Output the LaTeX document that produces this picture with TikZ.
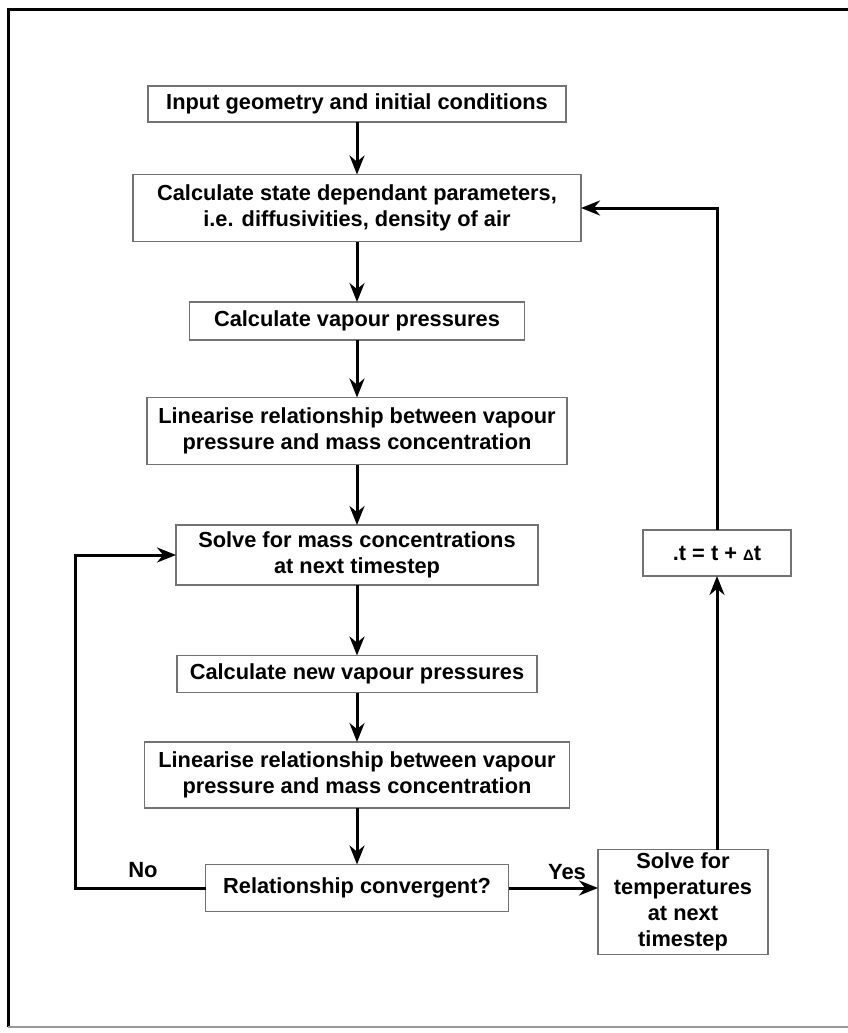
\documentclass[tikz,border=0pt]{standalone}
\usepackage{fontspec}
\setmainfont{Liberation Sans}
\usetikzlibrary{arrows.meta}
\tikzset{
box/.style = {draw=black!55, line width=1.1pt, fill=white,
              inner sep=0pt, outer sep=0pt, align=center,
              font=\bfseries\fontsize{21.8}{26}\selectfont},
arr/.style = {line width=3pt, -{Stealth[length=19pt, width=15pt]}},
lbl/.style = {font=\bfseries\fontsize{22}{26}\selectfont}
}

\begin{document}
\begin{tikzpicture}[x=1pt, y=-1pt]
	\def \cx{357}
	\useasboundingbox (0,0) rectangle (848,1033);
	
	% Frame
	\draw[black, line width=3pt] (8,1027) -- (8,10) -- (852,10);
	\draw[black!40, line width=2pt] (8,1027) -- (852,1027);
	
	% Main column
	\node[box, minimum width=418pt, minimum height=36pt] (input) at (\cx,104) {Input geometry and initial conditions};
	\node[box, minimum width=448pt, minimum height=67pt] (state) at (\cx,208) {Calculate state dependant parameters,\\i.e. diffusivities, density of air};
	\node[box, minimum width=335pt, minimum height=38pt] (vap) at (\cx,321) {Calculate vapour pressures};
	\node[box, minimum width=420pt, minimum height=67pt] (lin1) at (\cx,431) {Linearise relationship between vapour\\pressure and mass concentration};
	\node[box, minimum width=362pt, minimum height=60pt] (mass) at (\cx,555) {Solve for mass concentrations\\at next timestep};
	\node[box, minimum width=360pt, minimum height=37pt] (newvap) at (\cx,674) {Calculate new vapour pressures};
	\node[box, minimum width=425pt, minimum height=66pt] (lin2) at (\cx,775) {Linearise relationship between vapour\\pressure and mass concentration};
	\node[box, minimum width=303pt, minimum height=47pt] (conv) at (\cx,888) {Relationship convergent?};
	
	% Right column
	\node[box, minimum width=170pt, minimum height=105pt] (temp) at (683,902) {Solve for\\temperatures\\at next\\timestep};
	\node[box, minimum width=148pt, minimum height=46pt] (step) at (717,553) {.t = t + {\fontsize{15}{15}\selectfont Δ}t};
	
	% Arrows down the column
	\draw[arr] (input) -- (state);
	\draw[arr] (state) -- (vap);
	\draw[arr] (vap) -- (lin1);
	\draw[arr] (lin1) -- (mass);
	\draw[arr] (mass) -- (newvap);
	\draw[arr] (newvap) -- (lin2);
	\draw[arr] (lin2) -- (conv);
	
	% Loops
	\draw[arr] (conv.west) -- ++(-130,0) |- (mass.west);
	\draw[arr] (conv.east) -- (conv.east -| temp.west);
	\draw[arr] (temp.north -| step.south) -- (step.south);
	\draw[arr] (step.north) |- (state.east);
	
	% Labels
	\node[lbl] (no) at (143,870) {No};
	\node[lbl] (yes) at (567,872) {Yes};
\end{tikzpicture}
\end{document}
